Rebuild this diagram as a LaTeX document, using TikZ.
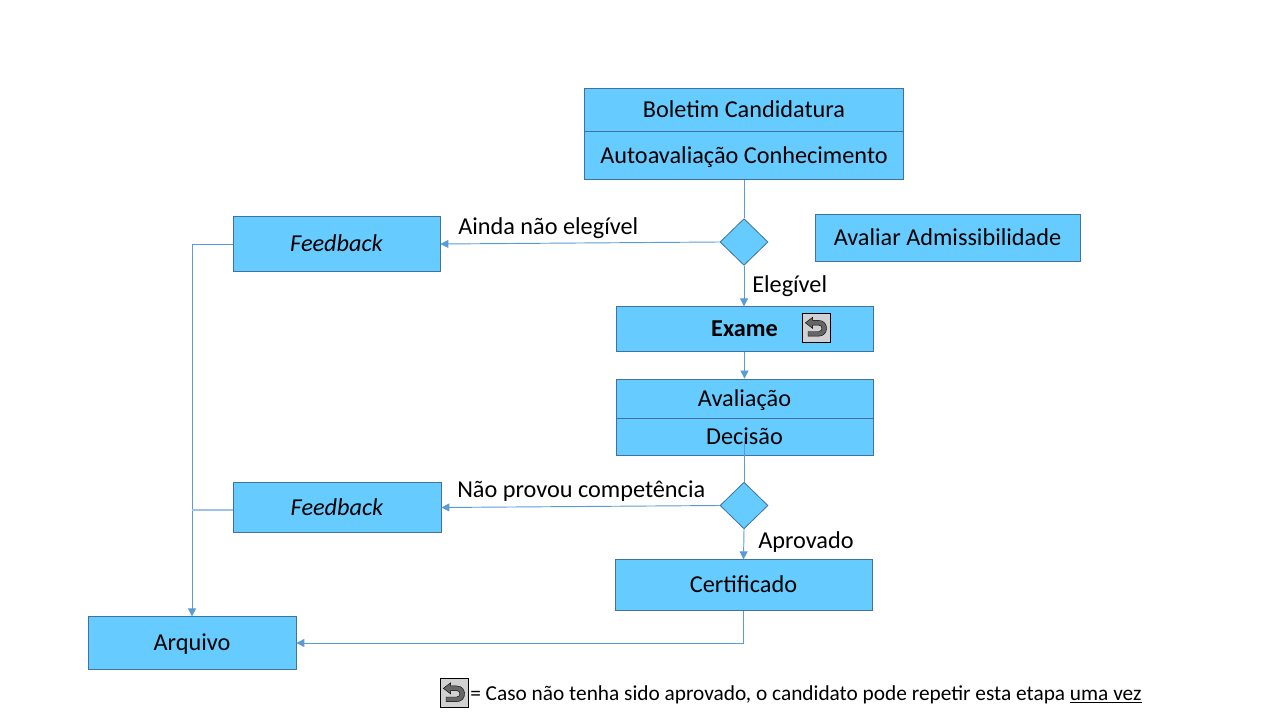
\documentclass[tikz,border=0pt]{standalone}
\usepackage{fontspec}
\setmainfont{Carlito}
\usetikzlibrary{positioning, arrows.meta, shapes.geometric}
\definecolor{boxfill}{HTML}{66CCFF}
\definecolor{boxline}{HTML}{41719C}
\definecolor{linkline}{HTML}{5B9BD5}
\tikzset{
        blue box/.style n args={2}{
		fill=boxfill,
		draw=boxline,
		line width=0.6pt,
		minimum width={#1*0.75pt},
		minimum height={#2*0.75pt},
		inner sep=0pt,
		text height=13.8pt,
		text depth=2.5pt,
		font=\fontsize{18.2}{20}\selectfont,
	  },
  		decision/.style={
		diamond,
		aspect=1,
		fill=boxfill,
		draw=boxline,
		line width=0.6pt,
		minimum width=36pt,
		minimum height=35pt,
		inner sep=0pt,
	  },
  		annotation/.style={
		font=\fontsize{18.2}{20}\selectfont,
		inner sep=0pt,
      },
  		link/.style={
		draw=linkline,
		line width=0.7pt,
      },
  		flow/.style={
		link,
		-{Triangle[length=6pt,width=6pt]},
      },
  		back icon/.style={
		fill=black!18,
		draw=black,
		line width=0.5pt,
		minimum width=21pt,
		minimum height=21.5pt,
		inner sep=0pt,
		path picture={
			\fill[black!60, draw=black, line width=0.3pt, shift={(path picture bounding box.center)}, x=1pt, y=1pt]
			(-8,3.5) -- (-2.5,7.7) -- (-2.5,5.3) -- (2,5.3) .. controls (9.9,5.3) and (9.9,-6.5) .. (2,-6.5)
			-- (-6,-6.5) -- (-6,-3) -- (2,-3) .. controls (5.2,-3) and (5.2,1.8) .. (2,1.8)
			-- (-2.5,1.8) -- (-2.5,-0.7) -- cycle;
		},
	  },
  	}

\begin{document}
\begin{tikzpicture}[x=0.75pt, y=-0.75pt]
    \useasboundingbox (0,0) rectangle (1280,720);
    \node [blue box={318.5}{43}] (boletim) at (744,109.5) {Boletim Candidatura};
    \node [blue box={318.5}{48}, below=0pt of boletim] (autoavaliacao) {Autoavaliação Conhecimento};
    \node [decision] (elegivel) at (744,242) {};
    \node [blue box={207}{54.5}] (feedback1) at (336.5,244) {\itshape Feedback};
    \node [blue box={265}{46.5}] (admissibilidade) at (947.5,238) {Avaliar Admissibilidade};
    \node [blue box={257}{44.5}] (exame) at (744.5,329) {\textbf{Exame}};
    \node [back icon] (exameicon) at (816,327.5) {};
    \node [blue box={257}{39}] (avaliacao) at (744.5,398.5) {Avaliação};
    \node [blue box={257}{37}, below=0pt of avaliacao] (decisao) {Decisão};
    \node [decision] (aprovado) at (744,505.5) {};
    \node [blue box={208}{49.5}] (feedback2) at (337,507.5) {\itshape Feedback};
    \node [blue box={257}{50.5}] (certificado) at (743.5,585) {Certificado};
    \node [blue box={208}{52.5}] (arquivo) at (192,643) {Arquivo};
    \node [back icon] (legendicon) at (454,693) {};
    \node [annotation, font=\fontsize{16}{18}\selectfont, anchor=base west] (legenda) at (470,700) {= Caso não tenha sido aprovado, o candidato pode repetir esta etapa \underline{uma vez}};
    \node [annotation, anchor=base west] at (458,234) {Ainda não elegível};
    \node [annotation, anchor=base west] at (752,292) {Elegível};
    \node [annotation, anchor=base west] at (457,497) {Não provou competência};
    \node [annotation, anchor=base west] at (758,548) {Aprovado};
    \coordinate (juncao1) at (feedback1.west -| arquivo.north);
    \coordinate (saida2) at ([yshift=-2pt]feedback2.west);
    \coordinate (juncao2) at (saida2 -| arquivo.north);
    \coordinate (canto) at (certificado.south |- arquivo.east);
    \draw [link] (autoavaliacao.south) -- (elegivel.north);
    \draw [flow] (elegivel.west) -- (feedback1.east);
    \draw [flow] (elegivel.south) -- (exame.north -| elegivel.south);
    \draw [flow] (exame.south) -- (avaliacao.north);
    \draw [link] (decisao.center) -- (aprovado.north -| decisao.center);
    \draw [flow] (aprovado.west) -- (feedback2.east);
    \draw [flow] (aprovado.south) -- (certificado.north);
    \draw [flow] (feedback1.west) -- (juncao1) -- (arquivo.north);
    \draw [link, draw=linkline!60, line width=1.1pt] (saida2) -- (juncao2);
    \draw [flow] (certificado.south) -- (canto) -- (arquivo.east);
  \end{tikzpicture}
\end{document}
